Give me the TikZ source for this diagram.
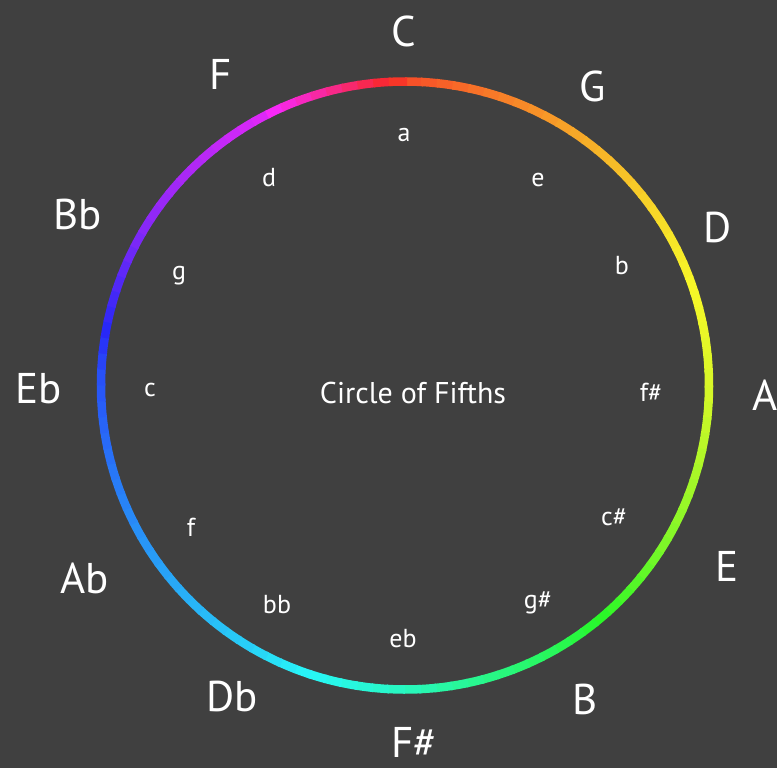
\documentclass[tikz,border=0pt]{standalone}
\usepackage{fontspec}
\setmainfont{PT Sans}
\usetikzlibrary{calc}
\definecolor{bg}{RGB}{64,64,64}
\tikzset{
  major/.style={text=white, inner sep=0pt, anchor=base, font=\fontsize{43}{50}\selectfont},
  minor/.style={text=white, inner sep=0pt, anchor=base, font=\fontsize{26}{30}\selectfont},
  title/.style={text=white, inner sep=0pt, anchor=base, font=\fontsize{30}{36}\selectfont}
}
\begin{document}
\begin{tikzpicture}[x=1pt,y=-1pt]
\fill[bg] (0,0) rectangle (777,768);
\useasboundingbox (0,0) rectangle (777,768);
\coordinate (O) at (405,385.5);
% colour wheel ring
\foreach \a/\hs/\he in {0/12/35, 30/35/55, 60/55/70, 90/70/95, 120/95/135, 150/135/165, 180/165/192, 210/192/210, 240/210/228, 270/228/268, 300/268/292, 330/292/372} {
  \foreach \j in {0,...,9} {
    \pgfmathsetmacro\hh{mod(\hs+(\he-\hs)*\j/10,360)}
    \pgfmathsetmacro\st{\a+3*\j-90}
    \definecolor{arcc}{Hsb}{\hh,0.84,0.97}
    \draw[arcc, line width=8.5pt] ($(O)+(\st:304)$) arc[start angle=\st, end angle=\st+3.4, radius=304];
  }
}
% major keys
\node[major] (C)  at (404,47)  {C};
\node[major] (G)  at (593,102) {G};
\node[major] (D)  at (718,242) {D};
\node[major] (A)  at (765,410) {A};
\node[major] (E)  at (727,581) {E};
\node[major] (B)  at (585,714) {B};
\node[major] (Fs) at (414,757) {F\#};
\node[major] (Db) at (232,711) {Db};
\node[major] (Ab) at (85,593)  {Ab};
\node[major] (Eb) at (39,403)  {Eb};
\node[major] (Bb) at (78,229)  {Bb};
\node[major] (F)  at (221,89)  {F};
% minor keys
\node[minor] (a)  at (404,142) {a};
\node[minor] (e)  at (538,186) {e};
\node[minor] (b)  at (622,274) {b};
\node[minor] (fs) at (651,401) {f\#};
\node[minor] (cs) at (614,525) {c\#};
\node[minor] (gs) at (538,608) {g\#};
\node[minor] (eb) at (403,647) {eb};
\node[minor] (bb) at (277,613) {bb};
\node[minor] (f)  at (191,536) {f};
\node[minor] (c)  at (150,396) {c};
\node[minor] (g)  at (179,279) {g};
\node[minor] (d)  at (269,186) {d};
% title
\node[title] (T) at (413,403) {Circle of Fifths};
\end{tikzpicture}
\end{document}
